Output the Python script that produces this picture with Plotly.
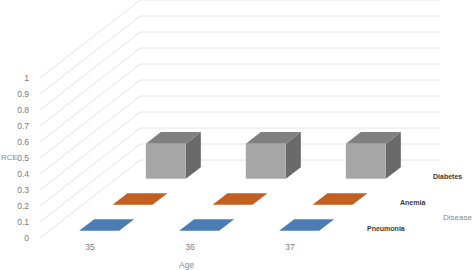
import plotly.graph_objects as go

# ---- data ----
ages = ["35", "36", "37"]
diseases = ["Pneumonia", "Anemia", "Diabetes"]
pneumonia = [0.0, 0.0, 0.0]
anemia = [0.0, 0.0, 0.0]
diabetes = [0.22, 0.22, 0.22]
rce_ticks = [0, 0.1, 0.2, 0.3, 0.4, 0.5, 0.6, 0.7, 0.8, 0.9, 1]
rce_ticktext = ["0", "0.1", "0.2", "0.3", "0.4", "0.5", "0.6", "0.7", "0.8", "0.9", "1"]

series_values = [pneumonia, anemia, diabetes]
# (front, top, side) colours per series
series_colors = [
    ("#4275ad", "#4b7db4", "#35628f"),
    ("#b85820", "#c4601f", "#994818"),
    ("#a6a6a6", "#808080", "#6a6a6a"),
]

# ---- oblique projection of the depth axis ----
DX = 1.0      # x shift for full depth (category units)
DY = 0.4875   # value shift for full depth (RCE units)
BAR_W = 0.40
BAR_T = 0.15
n_series = len(diseases)


def proj(x, v, d):
    return x + d * DX, v + d * DY


fig = go.Figure()

# gridlines (side wall + back wall)
x_left = -0.5
x_right = len(ages) - 0.5
for v in rce_ticks:
    pts = [proj(x_left, v, 0), proj(x_left, v, 1), proj(x_right, v, 1)]
    fig.add_trace(go.Scatter(x=[p[0] for p in pts], y=[p[1] for p in pts], mode="lines",
                             line=dict(color="#e4e4e4", width=1), hoverinfo="skip",
                             showlegend=False))


def face(pts, color):
    fig.add_trace(go.Scatter(x=[p[0] for p in pts], y=[p[1] for p in pts], mode="lines",
                             fill="toself", fillcolor=color, line=dict(width=0, color=color),
                             hoverinfo="skip", showlegend=False))


# bars, back to front
for s in reversed(range(n_series)):
    c = (s + 0.5) / n_series
    df = c - BAR_T / 2
    db = c + BAR_T / 2
    fc, tc, sc = series_colors[s]
    for i, v in enumerate(series_values[s]):
        x0 = i - BAR_W / 2
        x1 = i + BAR_W / 2
        if v > 0:
            face([proj(x1, 0, df), proj(x1, 0, db), proj(x1, v, db), proj(x1, v, df)], sc)
        face([proj(x0, v, df), proj(x1, v, df), proj(x1, v, db), proj(x0, v, db)], tc)
        if v > 0:
            face([proj(x0, 0, df), proj(x1, 0, df), proj(x1, v, df), proj(x0, v, df)], fc)

font_family = "Liberation Sans, Arial, sans-serif"
annotations = []
# depth axis (series) labels
for s, name in enumerate(diseases):
    c = (s + 0.5) / n_series
    px, py = proj(x_right, 0, c)
    annotations.append(dict(x=px, y=py, xref="x", yref="y", text="<b>" + name + "</b>",
                            showarrow=False, xanchor="left", yanchor="middle",
                            xshift=8, yshift=-3,
                            font=dict(family=font_family, size=7, color="#3a3a3a")))
annotations.append(dict(x=3.51, y=0.131, xref="x", yref="y", text="Disease", showarrow=False,
                        xanchor="left", yanchor="middle",
                        font=dict(family=font_family, size=8, color="#8a8a8a")))
annotations.append(dict(x=0.355, y=-0.104, xref="paper", yref="paper", text="Age",
                        showarrow=False, xanchor="center", yanchor="middle",
                        font=dict(family=font_family, size=8.5, color="#8a8a8a")))
annotations.append(dict(x=-0.0679, y=0.3417, xref="paper", yref="paper", text="RCE",
                        showarrow=False, xanchor="left", yanchor="middle", borderpad=0,
                        font=dict(family=font_family, size=8, color="#8a8a8a")))

fig.update_layout(
    width=472, height=270,
    margin=dict(l=30, r=0, t=0, b=30),
    paper_bgcolor="white", plot_bgcolor="white",
    showlegend=False,
    annotations=annotations,
    xaxis=dict(range=[-0.6, 3.82], tickvals=[0, 1, 2], ticktext=ages, automargin=False,
               showgrid=False, zeroline=False, showline=False, ticks="",
               tickfont=dict(family=font_family, size=8.5, color="#7a7a7a"), fixedrange=True),
    yaxis=dict(range=[-0.0125, 1.4875], tickvals=rce_ticks, ticktext=rce_ticktext,
               automargin=False,
               showgrid=False, zeroline=False, showline=False, ticks="",
               tickfont=dict(family=font_family, size=8.5, color="#7a7a7a"), fixedrange=True),
)

fig.write_html("out.html", config={"displayModeBar": False},
               post_script="document.body.style.margin='0px';")
